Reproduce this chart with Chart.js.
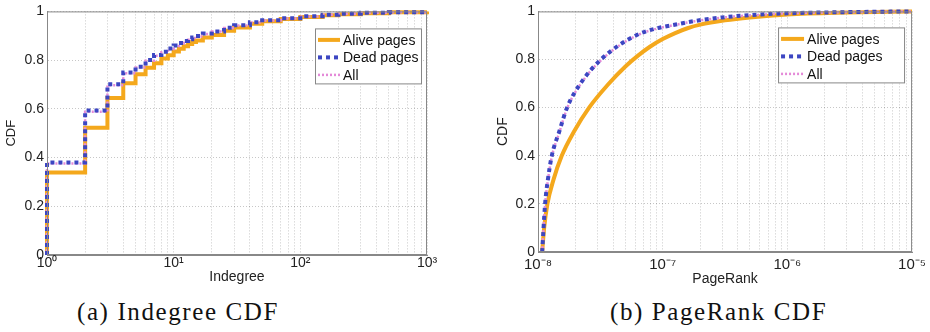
<!DOCTYPE html>
<html>
<head>
<meta charset="utf-8">
<title>Indegree / PageRank CDF</title>
<script src="https://cdn.jsdelivr.net/npm/chart.js@4.4.1/dist/chart.umd.min.js"></script>
<style>
  body { margin: 0; background: #fff; width: 930px; height: 332px; position: relative; overflow: hidden; }
  .panel { position: absolute; top: 0; height: 290px; }
  #left { left: 0; width: 440px; }
  #right { left: 470px; width: 460px; }
  .caption {
    position: absolute; top: 299px; white-space: nowrap; color: #111;
    font-family: "Liberation Serif", "DejaVu Serif", serif; font-size: 25px; line-height: 25px; letter-spacing: 1.6px;
  }
</style>
</head>
<body>
<div class="panel" id="left"><canvas id="indegreeChart"></canvas></div>
<div class="panel" id="right"><canvas id="pagerankChart"></canvas></div>
<div class="caption" style="left:77px">(a) Indegree CDF</div>
<div class="caption" style="left:610px">(b) PageRank CDF</div>
<script>
// series names
var seriesNames = ['Alive pages', 'Dead pages', 'All'];

// indegree CDF (step function)
var indegreeX     = [1, 1, 2, 3, 4, 5, 6, 7, 8, 9, 10, 11, 12, 13, 14, 15, 17, 20, 25, 30, 40, 50, 70, 100, 150, 200, 300, 500, 1000];
var indegreeAlive = [0, 0.339, 0.522, 0.644, 0.705, 0.742, 0.769, 0.787, 0.807, 0.82, 0.835, 0.847, 0.857, 0.866, 0.874, 0.881, 0.893, 0.903, 0.921, 0.934, 0.949, 0.96, 0.969, 0.977, 0.984, 0.988, 0.992, 0.996, 1];
var indegreeDead  = [0, 0.38, 0.593, 0.701, 0.749, 0.773, 0.8, 0.821, 0.834, 0.848, 0.86, 0.87, 0.879, 0.886, 0.893, 0.899, 0.909, 0.918, 0.933, 0.943, 0.955, 0.964, 0.972, 0.98, 0.986, 0.99, 0.994, 0.997, 1];
var indegreeAll   = [0, 0.376, 0.588, 0.697, 0.746, 0.77, 0.797, 0.818, 0.832, 0.846, 0.858, 0.868, 0.877, 0.884, 0.891, 0.897, 0.907, 0.917, 0.932, 0.942, 0.954, 0.963, 0.971, 0.979, 0.986, 0.99, 0.994, 0.997, 1];

// pagerank CDF
var pagerankAliveX = [1.08e-8, 1.12e-8, 1.19e-8, 1.33e-8, 1.55e-8, 1.94e-8, 2.57e-8, 3.63e-8, 5e-8, 6.3e-8, 7.9e-8, 1e-7, 1.26e-7, 1.58e-7, 2e-7, 3.16e-7, 5e-7, 1e-6, 3e-6, 1e-5];
var pagerankAlive  = [0, 0.1, 0.2, 0.3, 0.4, 0.5, 0.6, 0.695, 0.77, 0.815, 0.853, 0.885, 0.91, 0.93, 0.945, 0.963, 0.975, 0.987, 0.995, 1];
var pagerankDeadX  = [1.08e-8, 1.14e-8, 1.2e-8, 1.29e-8, 1.48e-8, 1.71e-8, 2.19e-8, 3.2e-8, 6.1e-8, 1.41e-7, 3e-7, 6e-7, 1e-6, 3e-6, 1e-5];
var pagerankDead   = [0, 0.2, 0.3, 0.4, 0.5, 0.6, 0.7, 0.8, 0.9, 0.95, 0.975, 0.987, 0.992, 0.997, 1];
var pagerankAll    = [0, 0.196, 0.296, 0.396, 0.496, 0.597, 0.697, 0.797, 0.898, 0.949, 0.974, 0.986, 0.992, 0.997, 1];

// tick labels
var yTickLabels = ['0', '0.2', '0.4', '0.6', '0.8', '1'];
var indegreeTickValues = [1, 10, 100, 1000];
var indegreeTickLabels = ['10\u2070', '10\u00b9', '10\u00b2', '10\u00b3'];
var pagerankTickValues = [1e-8, 1e-7, 1e-6, 1e-5];
var pagerankTickLabels = ['10\u207b\u2078', '10\u207b\u2077', '10\u207b\u2076', '10\u207b\u2075'];

var colors = ['#f4a81c', '#3c46c2', '#e48ad8'];
var sansFont = '"Liberation Sans", Arial, sans-serif';

function toPoints(xs, ys) {
  return xs.map(function (x, i) { return { x: x, y: ys[i] }; });
}

function decadeLabel(values, labels) {
  return function (value) {
    for (var i = 0; i < values.length; i++) {
      if (Math.abs(Math.log10(values[i]) - Math.log10(value)) < 1e-6) return labels[i];
    }
    return '';
  };
}

// keep only 1..9 x 10^n ticks (chart.js adds 1.5 x 10^n)
function keepIntegerMantissa(scale) {
  scale.ticks = scale.ticks.filter(function (t) {
    var m = t.value / Math.pow(10, Math.floor(Math.log10(t.value) + 1e-9));
    return Math.abs(m - Math.round(m)) < 1e-6;
  });
}

// matlab style box round the axes + legend inside top right
var boxPlugin = {
  id: 'matlabBox',
  afterDraw: function (chart, args, opts) {
    var ctx = chart.ctx, a = chart.chartArea;
    ctx.save();
    ctx.strokeStyle = '#888';
    ctx.lineWidth = 1;
    ctx.setLineDash([]);
    ctx.strokeRect(a.left + 0.5, a.top + 0.5, a.right - a.left - 1, a.bottom - a.top - 1);

    // legend
    var bx = a.right - opts.right - opts.width, by = a.top + opts.top;
    ctx.fillStyle = '#fff';
    ctx.fillRect(bx, by, opts.width, opts.height);
    ctx.strokeRect(bx + 0.5, by + 0.5, opts.width - 1, opts.height - 1);
    ctx.font = '14px ' + sansFont;
    ctx.textBaseline = 'middle';
    chart.data.datasets.forEach(function (d, i) {
      var y = by + 11.5 + i * 17.5;
      ctx.strokeStyle = d.borderColor;
      ctx.lineWidth = d.borderWidth;
      ctx.setLineDash(d.borderDash || []);
      ctx.beginPath();
      ctx.moveTo(bx + 3, y);
      ctx.lineTo(bx + 3 + opts.sample, y);
      ctx.stroke();
      ctx.fillStyle = '#111';
      ctx.fillText(d.label, bx + 6 + opts.sample, y + 1);
    });
    ctx.restore();
  }
};

function makeDatasets(aliveData, deadData, allData, smooth) {
  var common = {
    pointRadius: 0,
    fill: false,
    clip: false,
    stepped: smooth ? false : 'before',
    cubicInterpolationMode: smooth ? 'monotone' : 'default'
  };
  return [
    Object.assign({ label: seriesNames[0], data: aliveData, borderColor: colors[0], borderWidth: 4, order: 2 }, common),
    Object.assign({ label: seriesNames[1], data: deadData, borderColor: colors[1], borderWidth: 4, borderDash: [4, 4], order: 0 }, common),
    Object.assign({ label: seriesNames[2], data: allData, borderColor: colors[2], borderWidth: 2.5, borderDash: [2, 2], order: 1 }, common)
  ];
}

function makeOptions(cfg) {
  return {
    responsive: true,
    maintainAspectRatio: false,
    animation: false,
    layout: { padding: cfg.padding },
    plugins: {
      legend: { display: false },
      tooltip: { enabled: false },
      matlabBox: cfg.legend
    },
    scales: {
      x: {
        type: 'logarithmic',
        min: cfg.xMin,
        max: cfg.xMax,
        afterBuildTicks: keepIntegerMantissa,
        afterFit: function (scale) { scale.height = cfg.xHeight; },
        grid: { color: 'rgba(0,0,0,0.22)', drawTicks: false },
        border: { display: true, color: '#888', dash: [1, 2] },
        ticks: {
          autoSkip: false, maxRotation: 0, padding: cfg.xTickPad,
          color: '#222', font: { family: sansFont, size: cfg.xTickSize },
          callback: decadeLabel(cfg.tickValues, cfg.tickLabels)
        },
        title: {
          display: true, text: cfg.xTitle, color: '#222',
          font: { family: sansFont, size: 14 }, padding: { top: 0, bottom: 2 }
        }
      },
      y: {
        min: 0,
        max: 1,
        afterFit: function (scale) { scale.width = cfg.yWidth; },
        grid: { color: 'rgba(0,0,0,0.22)', drawTicks: false },
        border: { display: true, color: '#888', dash: [1, 2] },
        ticks: {
          stepSize: 0.2, padding: 3, color: '#222',
          font: { family: sansFont, size: 14 },
          callback: function (v, i) { return yTickLabels[i]; }
        },
        title: {
          display: true, text: 'CDF', color: '#222',
          font: { family: sansFont, size: cfg.yTitleSize }, padding: { top: 4, bottom: 0 }
        }
      }
    }
  };
}

document.addEventListener('DOMContentLoaded', function () {
  new Chart(document.getElementById('indegreeChart').getContext('2d'), {
    type: 'line',
    data: {
      datasets: makeDatasets(
        toPoints(indegreeX, indegreeAlive),
        toPoints(indegreeX, indegreeDead),
        toPoints(indegreeX, indegreeAll),
        false)
    },
    options: makeOptions({
      padding: { left: 0, top: 9, right: 13, bottom: 2 },
      xMin: 1, xMax: 1000, xHeight: 33, xTickPad: 0, xTickSize: 14,
      yWidth: 47, yTitleSize: 13, xTitle: 'Indegree',
      tickValues: indegreeTickValues, tickLabels: indegreeTickLabels,
      legend: { width: 107, height: 56, right: 5, top: 17, sample: 22 }
    }),
    plugins: [boxPlugin]
  });

  new Chart(document.getElementById('pagerankChart').getContext('2d'), {
    type: 'line',
    data: {
      datasets: makeDatasets(
        toPoints(pagerankAliveX, pagerankAlive),
        toPoints(pagerankDeadX, pagerankDead),
        toPoints(pagerankDeadX, pagerankAll),
        true)
    },
    options: makeOptions({
      padding: { left: 21, top: 10, right: 13, bottom: 0 },
      xMin: 1e-8, xMax: 1e-5, xHeight: 38, xTickPad: 4, xTickSize: 15,
      yWidth: 47, yTitleSize: 14, xTitle: 'PageRank',
      tickValues: pagerankTickValues, tickLabels: pagerankTickLabels,
      legend: { width: 127, height: 56, right: 7, top: 16, sample: 23 }
    }),
    plugins: [boxPlugin]
  });
});
</script>
</body>
</html>
